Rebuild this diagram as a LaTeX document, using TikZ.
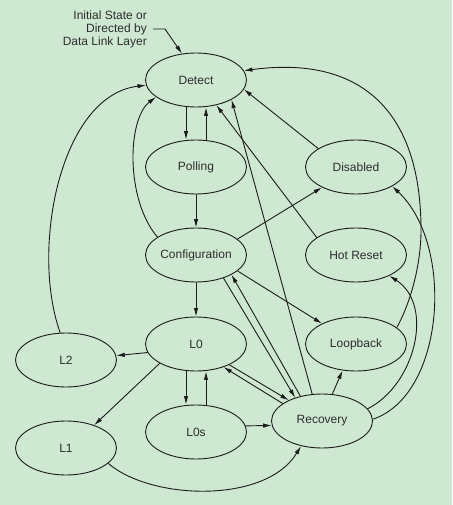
\documentclass[tikz,border=0pt]{standalone}
\usepackage{fontspec}
\setmainfont{Liberation Sans}
\usetikzlibrary{shapes.geometric,arrows.meta}
\definecolor{bgc}{RGB}{206,232,210}
\definecolor{ink}{RGB}{28,28,28}
\definecolor{txt}{RGB}{45,45,45}
\tikzset{
  stnode/.style={ellipse,draw=ink,line width=0.9pt,minimum width=101pt,minimum height=54pt,inner sep=0pt,
    font=\fontsize{12}{13}\selectfont,text=txt},
  conn/.style={draw=ink,line width=0.9pt},
  arr/.style={conn,-{Latex[length=8.5pt,width=4.5pt]}},
  lbl/.style={font=\fontsize{12}{13}\selectfont,text=txt,align=right,inner sep=0pt}
}
\begin{document}
\begin{tikzpicture}[x=1pt,y=-1pt]
\fill[bgc] (0,0) rectangle (452,505);
\useasboundingbox (0,0) rectangle (452,505);

\node[stnode] (Detect) at (196,80) {Detect};
\node[stnode] (Polling) at (196,167) {Polling};
\node[stnode] (Disabled) at (356,167) {Disabled};
\node[stnode] (Config) at (196,255) {Configuration};
\node[stnode] (HotReset) at (356,255) {Hot Reset};
\node[stnode] (L0) at (196,344) {L0};
\node[stnode] (Loopback) at (356,344) {Loopback};
\node[stnode] (L2) at (66,360) {L2};
\node[stnode] (L0s) at (196,432) {L0s};
\node[stnode] (Recovery) at (322,421) {Recovery};
\node[stnode] (L1) at (66,448) {L1};

\node[lbl,anchor=east] (init) at (147,29) {Initial State or\\Directed by\\Data Link Layer};
\coordinate (initp) at (153,29);
\draw[arr] (initp) -- ++(12,0) -- (Detect.118);

% vertical pairs
\draw[arr] ([xshift=-10pt]Detect.south) -- ([xshift=-10pt]Polling.north);
\draw[arr] ([xshift=10pt]Polling.north) -- ([xshift=10pt]Detect.south);
\draw[arr] (Polling.south) -- (Config.north);
\draw[arr] (Config.south) -- (L0.north);
\draw[arr] ([xshift=-10pt]L0.south) -- ([xshift=-10pt]L0s.north);
\draw[arr] ([xshift=10pt]L0s.north) -- ([xshift=10pt]L0.south);

% lower part
\draw[arr] (L0s.7) -- (Recovery.185);
\draw[arr] (L0.190) -- (L2.5);
\draw[arr] (L0.208) -- (L1.39);
\draw[arr] (L1.-20) .. controls +(43,37) and +(-35,58) .. (Recovery.230);
\draw[arr] (L0.-32) -- (Recovery.148);
\draw[arr] (Recovery.156) -- (L0.-40);

% to Detect
\draw[arr] (L2.102) .. controls +(-30,-83) and +(-86,10) .. (Detect.186);
\draw[arr] (Config.155) .. controls +(-32,-37) and +(-29,22) .. (Detect.203);
\draw[arr] (Recovery.110) -- (Detect.-29);
\draw[arr] (HotReset.156) -- (Detect.-51);
\draw[arr] (Disabled.154) -- (Detect.-11);
\draw[arr] (Loopback.22) .. controls (412,300) and (421,262) .. (421,230)
   .. controls (421,110) and (360,55) .. (Detect.11);

% from Configuration
\draw[arr] (Config.21) -- (Disabled.211);
\draw[arr] (Config.-21) -- (Loopback.149);
\draw[arr] (Config.-40) -- (Recovery.139);
\draw[arr] (Recovery.131) -- (Config.-29);

% from Recovery
\draw[arr] (Recovery.69) -- (Loopback.-117);
\draw[arr] (Recovery.15) .. controls (415,385) and (435,305) .. (HotReset.-32);
\draw[arr] (Recovery.2) .. controls (445,395) and (455,245) .. (Disabled.-28);
\end{tikzpicture}
\end{document}
